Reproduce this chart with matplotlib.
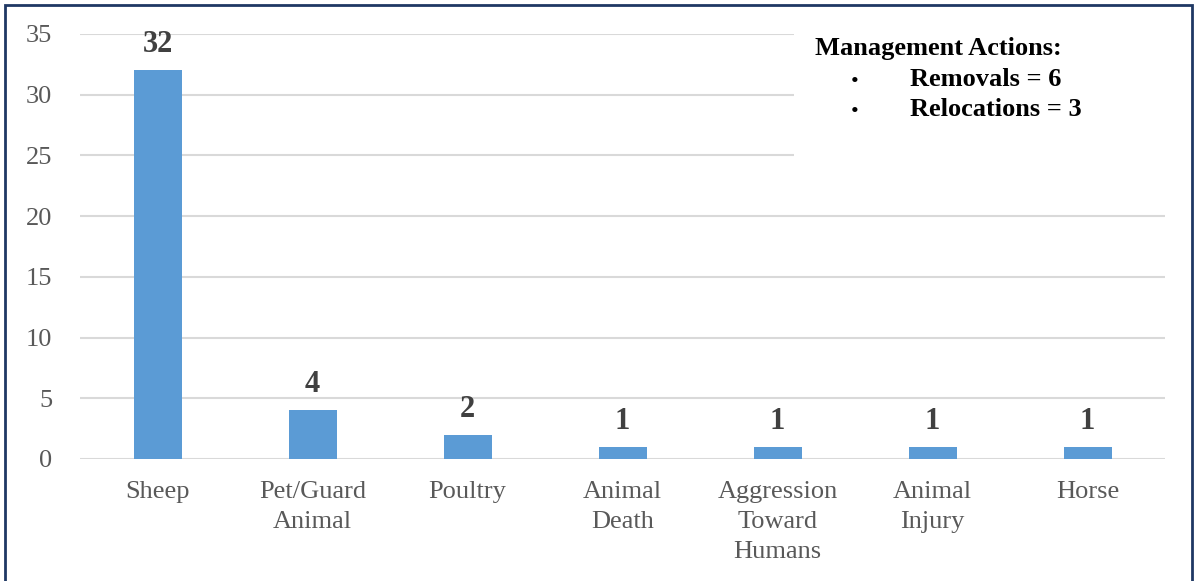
import matplotlib.pyplot as plt
from matplotlib.patches import Rectangle
import numpy as np

categories = ["Sheep", "Pet/Guard\nAnimal", "Poultry", "Animal\nDeath",
              "Aggression\nToward\nHumans", "Animal\nInjury", "Horse"]
counts = [32, 4, 2, 1, 1, 1, 1]
box_title = "Management Actions:"
box_items = ["Removals = 6", "Relocations = 3"]

plt.rcParams["font.family"] = ["Liberation Serif", "DejaVu Serif"]

fig = plt.figure(figsize=(11.95, 5.81), dpi=100)
ax = fig.add_axes([0.067, 0.21, 0.908, 0.7315])

x = np.arange(len(categories))
bars = ax.bar(x, counts, width=0.31, color="#5B9BD5", zorder=3)
for xi, v in zip(x, counts):
    ax.annotate(str(v), (xi, v), xytext=(0, 8), textcoords="offset points",
                ha="center", va="bottom", fontsize=22, fontweight="bold",
                color="#404040", zorder=4)

ax.set_xlim(-0.5, len(categories) - 0.5)
ax.set_ylim(0, 35)
ax.set_yticks(range(0, 36, 5))
ax.set_xticks(x)
ax.set_xticklabels(categories, fontsize=19, color="#595959", linespacing=1.45)
ax.tick_params(axis="y", labelsize=19, labelcolor="#595959", length=0, pad=20)
ax.tick_params(axis="x", length=0, pad=16)
ax.grid(axis="y", color="#D9D9D9", linewidth=1.5, zorder=0)
ax.set_axisbelow(True)
for s in ax.spines.values():
    s.set_visible(False)

# white box covering gridlines behind the annotation
ax.add_patch(Rectangle((0.658, 0.67), 0.36, 0.37, transform=ax.transAxes,
                       facecolor="white", edgecolor="none", zorder=2,
                       clip_on=False))
fig.text(815 / 1195, 1 - 49 / 581, box_title, fontsize=19, fontweight="bold",
         va="center", ha="left")
for i, item in enumerate(box_items):
    yy = 1 - (79 + 30 * i) / 581
    fig.text(851 / 1195, yy - 3 / 581, "\u2022", fontsize=16, va="center",
             ha="left")
    fig.text(910 / 1195, yy, item, fontsize=19, fontweight="bold",
             va="center", ha="left")

# outer frame
fig.add_artist(Rectangle((5 / 1195, -0.01), 1187 / 1195, 1 - 5 / 581 + 0.01,
                         transform=fig.transFigure, fill=False,
                         edgecolor="#1F3864", linewidth=2))

fig.savefig("out.png", dpi=100)
